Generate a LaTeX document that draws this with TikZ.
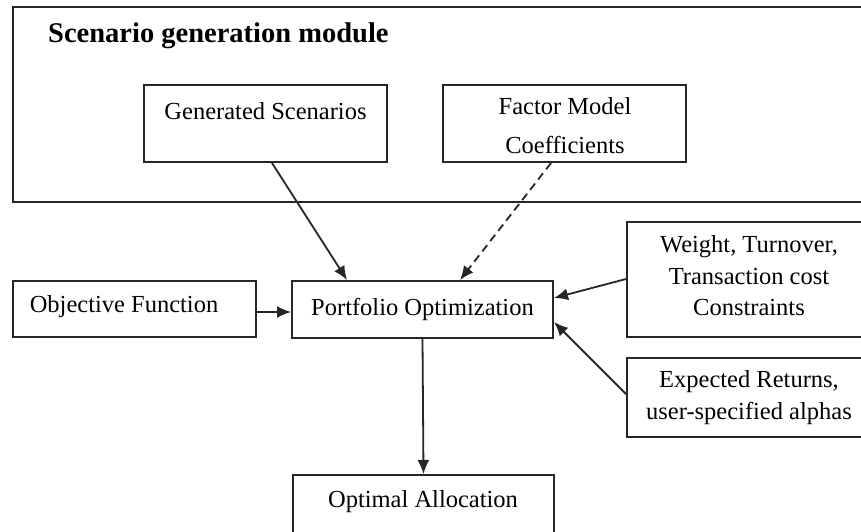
\documentclass[tikz,border=0pt]{standalone}
\usepackage{fontspec}
\setmainfont{Liberation Serif}
\usetikzlibrary{arrows.meta}
\definecolor{ink}{HTML}{262626}
\tikzset{
  box/.style={draw=ink, line width=2pt, rectangle, inner sep=0pt, align=center,
    font=\fontsize{24.5}{31.5}\selectfont},
  txt/.style={inner sep=0pt, align=center, font=\fontsize{24.5}{31.5}\selectfont},
  link/.style={draw=ink, line width=1.8pt, -{Latex[length=14pt,width=12pt]}},
  dlink/.style={link, dash pattern=on 8pt off 5pt}
}
\begin{document}
\begin{tikzpicture}[x=1pt, y=-1pt]
  \useasboundingbox (0,0) rectangle (861,532);
  \clip (0,0) rectangle (861,532);
  \fill[white] (0,0) rectangle (861,532);

  % scenario generation module frame
  \node[box, minimum width=866pt, minimum height=195pt] (module) at (446,104.5) {};
  \node[inner sep=0pt, anchor=base west, font=\fontsize{28.5}{32}\selectfont\bfseries]
    (title) at (48,43) {Scenario generation module};

  % boxes inside the module
  \node[box, minimum width=243pt, minimum height=77pt] (gen) at (265.5,123.5) {};
  \node[txt] (gentxt) at (265.5,111) {Generated Scenarios};
  \node[box, minimum width=243pt, minimum height=77pt] (factor) at (564.5,123.5) {};
  \node[txt, font=\fontsize{24.5}{39}\selectfont] (factortxt) at (565,126) {Factor Model\\Coefficients};

  % inputs and outputs of the optimizer
  \node[box, minimum width=243pt, minimum height=56pt] (obj) at (134.5,309) {};
  \node[txt] (objtxt) at (124,307) {Objective Function};
  \node[box, minimum width=261pt, minimum height=57pt] (port) at (422.5,309.5) {Portfolio Optimization};
  \node[box, minimum width=250pt, minimum height=115pt] (weight) at (752,279.5) {};
  \node[txt] (weighttxt) at (749,276) {Weight, Turnover,\\Transaction cost\\Constraints};
  \node[box, minimum width=250pt, minimum height=79pt] (expret) at (752,397.5) {};
  \node[txt] (expettxt) at (749,397.5) {Expected Returns,\\user-specified alphas};
  \node[box, minimum width=261pt, minimum height=72pt] (alloc) at (423.5,511) {};
  \node[txt] (alloctxt) at (423,502) {Optimal Allocation};

  % connectors (shifts are in canvas units: positive yshift points up)
  \draw[link] ([xshift=6.5pt]gen.south) -- ([xshift=-75.5pt]port.north);
  \draw[dlink] ([xshift=-13.5pt]factor.south) -- ([xshift=37.5pt]port.north);
  \draw[link] ([yshift=-3pt]obj.east) -- ([yshift=-2.5pt]port.west);
  \draw[link] ([yshift=0.5pt]weight.west) -- ([yshift=11.5pt]port.east);
  \draw[link] ([yshift=3.5pt]expret.west) -- ([yshift=-12.5pt]port.east);
  \draw[link] (port.south) -- (alloc.north);
\end{tikzpicture}
\end{document}
